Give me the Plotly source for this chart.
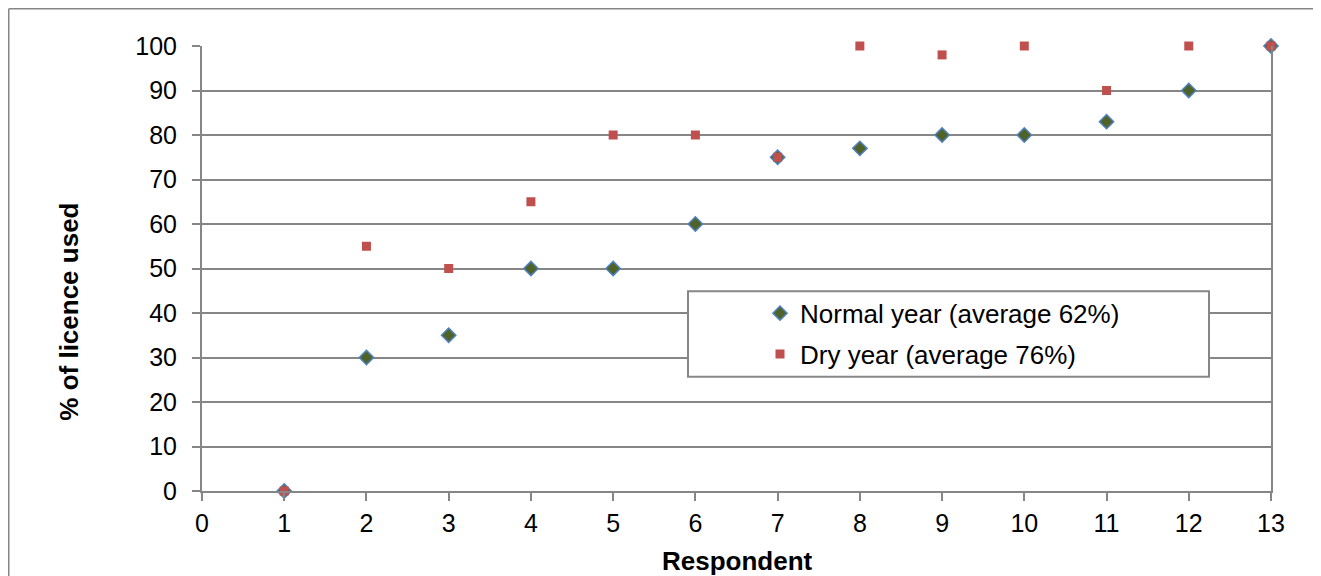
import plotly.graph_objects as go

respondents = list(range(1, 14))
normal_year = [0, 30, 35, 50, 50, 60, 75, 77, 80, 80, 83, 90, 100]
dry_year = [0, 55, 50, 65, 80, 80, 75, 100, 98, 100, 90, 100, 100]
normal_label = "Normal year (average 62%)"
dry_label = "Dry year (average 76%)"
x_title = "Respondent"
y_title = "% of licence used"

FONT = "Liberation Sans, Arial, sans-serif"
GRID = "#868686"

FIG_W, FIG_H = 1321, 576
# plot area in svg pixels (page is offset by 8px body margin)
L, R, T, B = 194, 1263, 38, 483.5
W, H = R - L, B - T


def px(xs):
    return (xs - L) / W


def py(ys):
    return (B - ys) / H


fig = go.Figure()
fig.add_trace(go.Scatter(
    x=respondents, y=normal_year, mode="markers", name=normal_label,
    legendgroup="a",
    marker=dict(symbol="diamond", size=11, color="#4F6228",
                line=dict(color="#4F81BD", width=1.5)),
    cliponaxis=False,
))
fig.add_trace(go.Scatter(
    x=respondents, y=dry_year, mode="markers", name=dry_label,
    legendgroup="b",
    marker=dict(symbol="square", size=9, color="#C0504D",
                line=dict(width=0)),
    cliponaxis=False,
))

fig.update_layout(
    width=FIG_W, height=FIG_H,
    margin=dict(l=L, r=FIG_W - R, t=T, b=FIG_H - B),
    paper_bgcolor="white", plot_bgcolor="white",
    font=dict(family=FONT, size=25, color="black"),
    showlegend=True,
    legend=dict(
        x=px(752), y=py(282), xanchor="left", yanchor="top",
        bgcolor="rgba(0,0,0,0)", borderwidth=0,
        font=dict(family=FONT, size=26, color="black"),
        traceorder="grouped", tracegroupgap=4,
    ),
    xaxis=dict(
        range=[0, 13], tick0=0, dtick=1, showgrid=False,
        showline=True, linecolor=GRID, linewidth=2,
        ticks="outside", ticklen=8, tickcolor=GRID, tickwidth=2,
        tickfont=dict(family=FONT, size=25, color="black"),
        ticklabelstandoff=1, zeroline=False,
    ),
    yaxis=dict(
        range=[0, 100], tick0=0, dtick=10, showgrid=True,
        gridcolor=GRID, gridwidth=2,
        showline=True, linecolor=GRID, linewidth=2, mirror=True,
        ticks="outside", ticklen=8, tickcolor=GRID, tickwidth=2,
        tickfont=dict(family=FONT, size=25, color="black"),
        ticklabelstandoff=10, zeroline=False,
    ),
    annotations=[
        dict(text="<b>" + x_title + "</b>", xref="paper", yref="paper",
             x=px(729), y=py(554),
             xanchor="center", yanchor="middle", showarrow=False,
             font=dict(family=FONT, size=26, color="black")),
        dict(text="<b>" + y_title + "</b>", xref="paper", yref="paper",
             x=px(61), y=py(304), textangle=-90,
             xanchor="center", yanchor="middle", showarrow=False,
             font=dict(family=FONT, size=26, color="black")),
    ],
    shapes=[
        dict(type="rect", xref="paper", yref="paper",
             x0=px(680), x1=px(1201), y0=py(369), y1=py(283.5),
             line=dict(color=GRID, width=2), fillcolor="white", layer="above"),
        dict(type="line", xref="paper", yref="paper",
             x0=px(0.75), x1=px(FIG_W), y0=py(0.75), y1=py(0.75),
             line=dict(color=GRID, width=1.5), layer="below"),
        dict(type="line", xref="paper", yref="paper",
             x0=px(0.75), x1=px(0.75), y0=py(0.75), y1=py(FIG_H),
             line=dict(color=GRID, width=1.5), layer="below"),
    ],
)

fig.write_html("out.html")
